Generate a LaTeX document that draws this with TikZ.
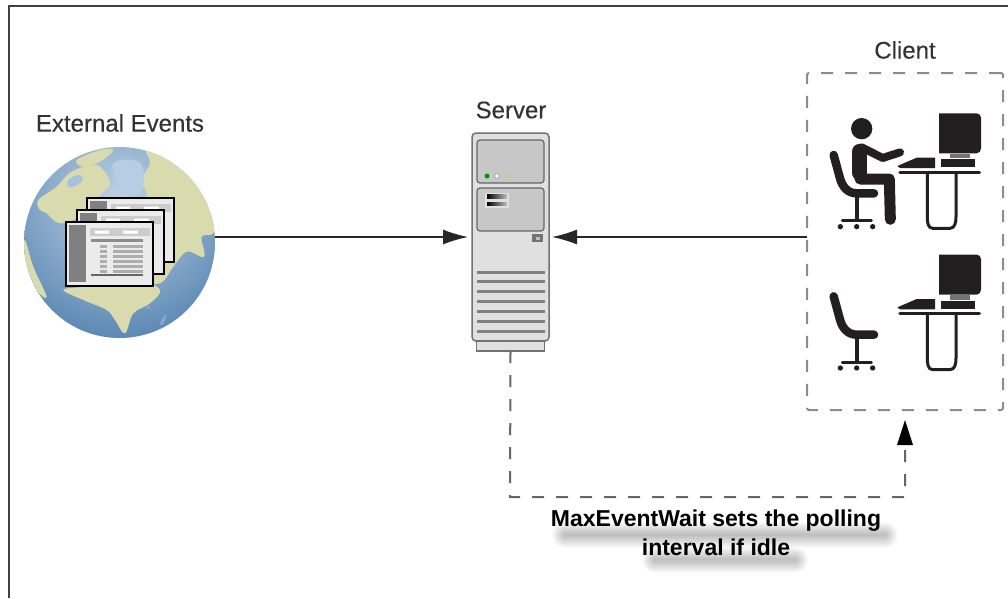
\documentclass[tikz,border=0pt]{standalone}
\usepackage{fontspec}
\setmainfont{Liberation Sans}
\newfontfamily\labfont[FakeBold=0.25]{Liberation Sans}
\usetikzlibrary{arrows.meta,calc}
\definecolor{land}{HTML}{D9DBAE}
\definecolor{ocean}{HTML}{5F90C0}
\definecolor{ink}{HTML}{231F20}
\tikzset{
 lab/.style={font=\labfont\fontsize{24}{27}\selectfont,text=black!80},
 flow/.style={draw=black!85,line width=1.3pt,-{Latex[length=25pt,width=15pt]}},
 poll/.style={draw=black!60,line width=2pt,dash pattern=on 12pt off 12pt},
 boxd/.style={draw=black!45,line width=2pt,dash pattern=on 12pt off 12pt,rounded corners=2pt},
 panel/.style={draw=black!60,line width=1.2pt,fill=black!22,rounded corners=3pt},
 slot/.style={draw=black!50,line width=3pt},
 win/.style={draw=black,line width=1.6pt,fill=black!8},
 softshadow/.style={draw=black,line cap=round,opacity=.02},
 solid ink/.style={draw=ink,line cap=round,line join=round},
}
\newcommand{\winbody}[2]{%
 \begin{scope}[shift={(#1,#2)}]
  \draw[win] (0,0) rectangle (87,64);
  \fill[black!50] (3,3) rectangle (20,60);
  \fill[black!20] (24,6) rectangle (84,14);
  \fill[white] (29,8.5) rectangle (43,11.5) (57,8.5) rectangle (72,11.5);
  \fill[black!45] (25,17) rectangle (77,20);
  \foreach \yy in {23,28,33,38,43,48}{\fill[black!32] (34,\yy) rectangle (41,\yy+3.2);\fill[black!32] (47,\yy) rectangle (77,\yy+3.2);}
  \fill[black!60] (25,52) rectangle (77,54);
 \end{scope}}
\newcommand{\deskicon}[1]{%
 \begin{scope}[shift={(0,#1)}]
  \fill[ink] (417,250) -- (530,250) to[out=0,in=90] (543,263) -- (543,355) to[out=-90,in=0] (530,370) -- (417,370) -- cycle;
  \fill[black!55] (450,372) rectangle (510,385);
  \fill[ink] (423,388) rectangle (525,412);
  \fill[ink] (292,408) -- (350,383) -- (405,383) -- (405,414) -- (300,414) -- cycle;
  \draw[solid ink,line width=3.5pt] (300,427) -- (538,427);
  \draw[solid ink,line width=3pt] (382,432) -- (382,560) to[out=-90,in=180] (398,595) -- (450,595) to[out=0,in=-90] (468,560) -- (468,432);
 \end{scope}}
\newcommand{\chairicon}[1]{%
 \begin{scope}[shift={(0,#1)}]
  \draw[solid ink,line width=8.5pt] (101,375) -- (120,445) to[out=-75,in=180] (170,490) -- (222,490);
  \draw[draw=ink,line width=3.8pt] (170,490) -- (170,572);
  \draw[solid ink,line width=3pt] (127,572) -- (214,572);
  \foreach \xx in {121,170,218}{\fill[ink] (\xx,590) circle (8);}
 \end{scope}}
\begin{document}
\begin{tikzpicture}[x=1pt,y=-1pt]
\useasboundingbox (0,0) rectangle (1008,598);
\fill[white] (0,0) rectangle (1008,598);
% frame
\draw[black!75,line width=2pt] (9,598) -- (9,6) -- (1008,6);

% globe
\node[circle,minimum size=191pt,inner sep=0pt,outer sep=0pt] (globe) at (119.5,242.5) {};
\begin{scope}
 \clip (globe.center) circle (95.5);
 \shade[inner color=ocean!40,outer color=ocean!92!black] (119.5,200) circle (145);
 \begin{scope}[shift={(0,100)},x=1pt/3,y=-1pt/3]
  \fill[land] plot[smooth cycle,tension=.6] coordinates {(440,150)(520,180)(570,230)(600,270)(640,340)(640,400)(605,410)(612,470)(560,455)(520,500)(480,550)(420,530)(380,420)(340,380)(380,300)(440,290)(425,240)(450,190)};
  \fill[land] plot[smooth cycle,tension=.6] coordinates {(250,560)(330,545)(420,540)(480,570)(450,610)(400,640)(375,700)(345,660)(320,630)(250,600)(190,570)};
  \fill[land] plot[smooth cycle,tension=.6] coordinates {(115,300)(170,260)(215,215)(290,195)(330,250)(300,290)(310,340)(250,350)(180,370)(140,340)(120,330)};
  \fill[land] plot[smooth cycle,tension=.6] coordinates {(230,180)(300,150)(340,150)(300,185)(250,200)};
  \fill[land] plot[smooth cycle,tension=.6] coordinates {(75,420)(100,500)(140,590)(110,570)(75,480)};
  \fill[ocean!80] (445,622) circle (6);
  \fill[ocean!80] plot[smooth cycle,tension=.7] coordinates {(500,645)(488,675)(480,670)(490,650)};
  \fill[ocean!55] plot[smooth cycle,tension=.7] coordinates {(205,240)(240,225)(245,245)(210,262)};
  \fill[ocean!45] plot[smooth cycle,tension=.7] coordinates {(340,190)(400,180)(430,210)(420,280)(370,280)(350,240)};
 \end{scope}
\end{scope}
\winbody{87}{198}
\winbody{77}{210}
\winbody{66}{222}
\node[lab] (extlabel) at (120,123) {External Events};

% server
\node[draw=black!55,line width=1.5pt,fill=black!12,rounded corners=4pt,minimum width=77pt,minimum height=208pt,inner sep=0pt,outer sep=0pt] (server) at (510.5,237) {};
\node[draw=black!55,line width=1.3pt,fill=black!12,minimum width=68pt,minimum height=10pt,inner sep=0pt,outer sep=0pt,anchor=north] (base) at (510.5,341) {};
\draw[panel] (477,140) rectangle (544,183);
\draw[panel] (477,188) rectangle (544,231);
\fill[green!60!black] (487,176) circle (2.5);
\fill[white,draw=black!50] (497,176) circle (2.2);
\fill[yellow!60!black!60] (507,176) circle (2.4);
\fill[black!12] (485,193) rectangle (509,208);
\shade[left color=black,right color=black!25] (487,194.5) rectangle (507,198);
\shade[left color=black,right color=black!25] (487,202) rectangle (507,205.5);
\draw[draw=black!55,line width=1.2pt,fill=black!55] (533,234.5) rectangle (542,241.5);
\fill[black!25] (535.5,236.5) rectangle (539.5,239.5);
\foreach \yy in {272,281.8,291.6,301.4,311.2,321,331}{\draw[slot] (477,\yy) -- (545,\yy);}
\node[lab] (serverlabel) at (511,110) {Server};

% client
\node[boxd,minimum width=196pt,minimum height=337pt,inner sep=0pt,outer sep=0pt] (client) at (905,241.5) {};
\begin{scope}[shift={(800,30)},x=1pt/3,y=-1pt/3]
 \chairicon{0}
 \deskicon{0}
 \fill[ink] (185,296) circle (32);
 \draw[solid ink,line width=15.5pt] (178,365) -- (178,428);
 \draw[solid ink,line width=11pt] (180,447) -- (268,447) -- (271,568);
 \draw[solid ink,line width=8pt] (185,352) -- (248,384) -- (300,367);
 \chairicon{424}
 \deskicon{424}
\end{scope}
\node[lab] (clientlabel) at (905,50) {Client};

% connectors
\coordinate (turn) at (510,497);
\draw[flow,shorten >=4pt] (globe.east |- server.west) -- (server.west);
\draw[flow,shorten >=3pt] (client.west |- server.east) -- (server.east);
\draw[poll] (base.south) -- (turn) -- (turn -| client.south) -- ($(client.south)+(0,25)$);
\fill[black] ($(client.south)+(0,10)$) -- ($(client.south)+(8,35)$) -- ($(client.south)+(-8,35)$) -- cycle;

% soft shadow of the note
\foreach \ww in {2,4,...,26}{
 \draw[softshadow,line width=\ww pt] (565,535) -- (885,535);
 \draw[softshadow,line width=\ww pt] (655,560) -- (795,560);
}
\node[font=\bfseries\fontsize{23}{29}\selectfont,align=center,text=black,inner sep=0pt] (note) at (716,533) {MaxEventWait sets the polling\\interval if idle};
\end{tikzpicture}
\end{document}
